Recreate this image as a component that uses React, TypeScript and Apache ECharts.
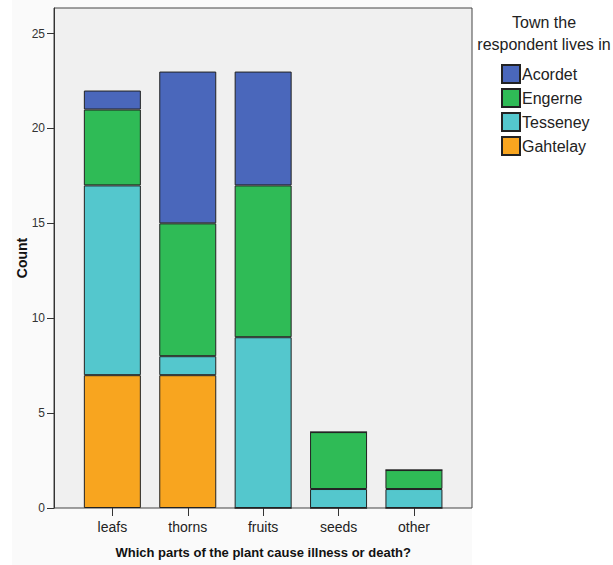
import React, { useEffect, useRef } from "react";
import * as echarts from "echarts";

const categories = ["leafs", "thorns", "fruits", "seeds", "other"];
const gahtelay = [7, 7, 0, 0, 0];
const tesseney = [10, 1, 9, 1, 1];
const engerne = [4, 7, 8, 3, 1];
const acordet = [1, 8, 6, 0, 0];
const yMax = 26.35;

const colors: Record<string, string> = {
  Acordet: "#4a67bb",
  Engerne: "#2fbb56",
  Tesseney: "#54c7cd",
  Gahtelay: "#f8a51f",
};

const FONT = "Liberation Sans, Arial, sans-serif";

export default function App() {
  const ref = useRef<HTMLDivElement>(null);
  useEffect(() => {
    if (!ref.current) return;
    const chart = echarts.init(ref.current, null, { renderer: "svg" });
    const mk = (name: string, vals: number[]) => ({
      name,
      type: "bar",
      stack: "total",
      barWidth: 57,
      xAxisIndex: 0,
      yAxisIndex: 0,
      data: vals,
      itemStyle: {
        color: colors[name],
        borderColor: "#222",
        borderWidth: 1,
      },
    });
    chart.setOption({
      animation: false,
      backgroundColor: "#ffffff",
      graphic: [
        {
          type: "rect",
          shape: { x: 12, y: 0, width: 460, height: 565 },
          style: { fill: "#fafafa" },
          z: -10,
          silent: true,
        },
        {
          type: "text",
          x: 544,
          y: 11,
          style: {
            text: "Town the\nrespondent lives in",
            align: "center",
            verticalAlign: "top",
            font: `16px ${FONT}`,
            fill: "#222",
            lineHeight: 22,
          },
        },
      ],
      legend: {
        data: ["Acordet", "Engerne", "Tesseney", "Gahtelay"],
        orient: "vertical",
        left: 501,
        top: 64,
        padding: 0,
        itemWidth: 18,
        itemHeight: 18,
        itemGap: 4,
        icon: "rect",
        textStyle: {
          fontFamily: FONT,
          fontSize: 16,
          color: "#222",
          padding: [0, 0, 0, -3],
        },
      },
      grid: [
        {
          left: 74.65,
          top: 8,
          right: 161.35,
          bottom: 57,
          show: false,
          containLabel: false,
          outerBoundsMode: "none",
        },
        {
          left: 54,
          top: 8,
          right: 141,
          bottom: 57,
          show: true,
          backgroundColor: "#f0f0f0",
          borderColor: "#444",
          borderWidth: 1,
          containLabel: false,
          outerBoundsMode: "none",
          z: -1,
        },
      ],
      xAxis: [
        {
          type: "category",
          gridIndex: 0,
          data: categories,
          boundaryGap: true,
          name: "Which parts of the plant cause illness or death?",
          nameLocation: "middle",
          nameGap: 38,
          nameMoveOverlap: false,
          nameTextStyle: {
            fontFamily: FONT,
            fontSize: 13,
            fontWeight: "bold",
            color: "#111",
          },
          axisLine: { show: false },
          axisTick: {
            show: true,
            length: 8,
            alignWithLabel: true,
            lineStyle: { color: "#333" },
          },
          axisLabel: {
            fontFamily: FONT,
            fontSize: 14,
            color: "#222",
            margin: 12,
          },
        },
        {
          type: "value",
          gridIndex: 1,
          show: false,
        },
      ],
      yAxis: [
        {
          type: "value",
          gridIndex: 0,
          min: 0,
          max: yMax,
          show: false,
          splitLine: { show: false },
        },
        {
          type: "value",
          gridIndex: 1,
          min: 0,
          max: yMax,
          interval: 5,
          name: "Count",
          nameLocation: "middle",
          nameGap: 25,
          nameMoveOverlap: false,
          nameTextStyle: {
            fontFamily: FONT,
            fontSize: 14,
            fontWeight: "bold",
            color: "#111",
          },
          splitLine: { show: false },
          axisLine: { show: true, lineStyle: { color: "#333", width: 1 } },
          axisTick: {
            show: true,
            length: 7,
            lineStyle: { color: "#333" },
          },
          axisLabel: {
            showMaxLabel: false,
            fontFamily: FONT,
            fontSize: 12,
            color: "#333",
            margin: 9,
          },
        },
      ],
      series: [
        mk("Gahtelay", gahtelay),
        mk("Tesseney", tesseney),
        mk("Engerne", engerne),
        mk("Acordet", acordet),
      ],
    });
    return () => chart.dispose();
  }, []);
  return (
    <div
      ref={ref}
      style={{ position: "absolute", left: 0, top: 0, width: 613, height: 565 }}
    />
  );
}
